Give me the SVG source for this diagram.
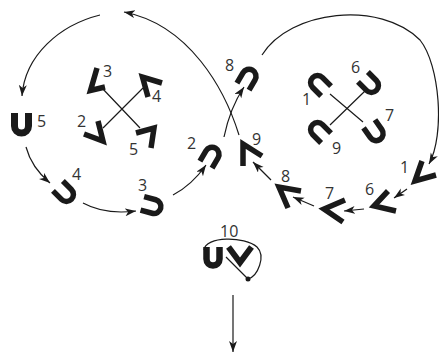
<svg xmlns="http://www.w3.org/2000/svg" width="439" height="353" viewBox="0 0 439 353">
<style>
.u{fill:none;stroke:#1a1a1a;stroke-width:5.5;stroke-linecap:butt}
.v{fill:none;stroke:#1a1a1a;stroke-width:5.5;stroke-linejoin:miter;stroke-miterlimit:10;stroke-linecap:butt}
.c{fill:none;stroke:#1a1a1a;stroke-width:1.2}
.lbl{font-family:"Open Sans","Liberation Sans",sans-serif;font-size:16px;fill:#333}
</style>
<defs>
<path id="U" d="M-7,-10V2A7,7 0 0 0 7,2V-10"/>
<marker id="ah" markerWidth="12" markerHeight="9" refX="11" refY="4" orient="auto" markerUnits="userSpaceOnUse">
<path d="M0,0L11,4L0,8L3,4Z" fill="#1a1a1a"/>
</marker>
</defs>
<rect width="439" height="353" fill="#fff"/>

<g id="connectors">
<path class="c" d="M100,15C60,25 25,55 22,96" marker-end="url(#ah)"/>
<path class="c" d="M239,135C225,90 190,25 124,12" marker-end="url(#ah)"/>
<path class="c" d="M262,55C290,10 380,0 420,40C440,65 445,135 429,164" marker-end="url(#ah)"/>
<path class="c" d="M224,137Q230,108 244,87" marker-end="url(#ah)"/>
<path class="c" d="M26,147C30,162 38,173 50,183" marker-end="url(#ah)"/>
<path class="c" d="M83,203Q105,215 136,211" marker-end="url(#ah)"/>
<path class="c" d="M173,195Q192,185 206,165" marker-end="url(#ah)"/>
<path class="c" d="M407,189L394,198" marker-end="url(#ah)"/>
<path class="c" d="M364,209L344,211" marker-end="url(#ah)"/>
<path class="c" d="M314,206L293,197" marker-end="url(#ah)"/>
<path class="c" d="M271,180L253,162" marker-end="url(#ah)"/>
<path class="c" d="M233,295V352" marker-end="url(#ah)"/>
<path class="c" d="M102,88L140,128M103,128L143,88"/>
<path class="c" d="M330,94L363,122M365,91L330,125"/>
</g>

<g id="n5">
<path class="u" style="stroke-width:7" d="M14.5,113V126A7,7 0 0 0 28.5,126V113"/>
<text class="lbl" x="37" y="127">5</text>
</g>
<g id="n4">
<use href="#U" class="u" transform="translate(65,193) rotate(-45)"/>
<text class="lbl" x="72" y="180">4</text>
</g>
<g id="n3">
<use href="#U" class="u" transform="translate(152,206) rotate(-75)"/>
<text class="lbl" x="138" y="191">3</text>
</g>
<g id="n2">
<use href="#U" class="u" transform="translate(211,156) rotate(210)"/>
<text class="lbl" x="187" y="149">2</text>
</g>
<g id="n8">
<use href="#U" class="u" transform="translate(248,78) rotate(210)"/>
<text class="lbl" x="225" y="71">8</text>
</g>

<g id="leftcross">
<polyline class="v" points="97,68 90.5,90.5 105,87"/>
<polyline class="v" points="162,83 142.5,77 148,97"/>
<polyline class="v" points="98,121 103,141 84,134"/>
<polyline class="v" points="136,133 154,128 151,148"/>
<text class="lbl" x="103" y="77">3</text>
<text class="lbl" x="152" y="102">4</text>
<text class="lbl" x="77" y="127">2</text>
<text class="lbl" x="129" y="155">5</text>
</g>

<g id="rightcross">
<use href="#U" class="u" transform="translate(319,84) rotate(135)"/>
<use href="#U" class="u" transform="translate(370,84) rotate(-45)"/>
<use href="#U" class="u" transform="translate(319,131) rotate(135)"/>
<use href="#U" class="u" transform="translate(375,132) rotate(-35)"/>
<text class="lbl" x="351" y="73">6</text>
<text class="lbl" x="302" y="105">1</text>
<text class="lbl" x="385" y="121">7</text>
<text class="lbl" x="332" y="154">9</text>
</g>

<g id="c1">
<polyline class="v" points="422,161 415,181 436,175"/>
<text class="lbl" x="400" y="173">1</text>
</g>
<g id="c6">
<polyline class="v" points="388,191 374,206 396,211"/>
<text class="lbl" x="365" y="195">6</text>
</g>
<g id="c7">
<polyline class="v" points="345,200 324,209 343,222"/>
<text class="lbl" x="325" y="199">7</text>
</g>
<g id="c8">
<polyline class="v" points="301,191 279,187 288,208"/>
<text class="lbl" x="281" y="182">8</text>
</g>
<g id="c9">
<polyline class="v" points="243,166 243,144 262,156"/>
<text class="lbl" x="252" y="145">9</text>
</g>

<g id="n10">
<path class="u" style="stroke-width:6.5" d="M206.5,247V259A6.5,6.5 0 0 0 219.5,259V247"/>
<polyline class="v" style="stroke-width:6" points="228.5,247 240,262.5 251.5,247"/>
<path class="c" d="M204,250C205,236 245,236 257,247C266,256 258,276 248,279L226,257"/>
<circle cx="248" cy="279" r="2.5" fill="#1a1a1a"/>
<text class="lbl" x="220" y="237">10</text>
</g>
</svg>
